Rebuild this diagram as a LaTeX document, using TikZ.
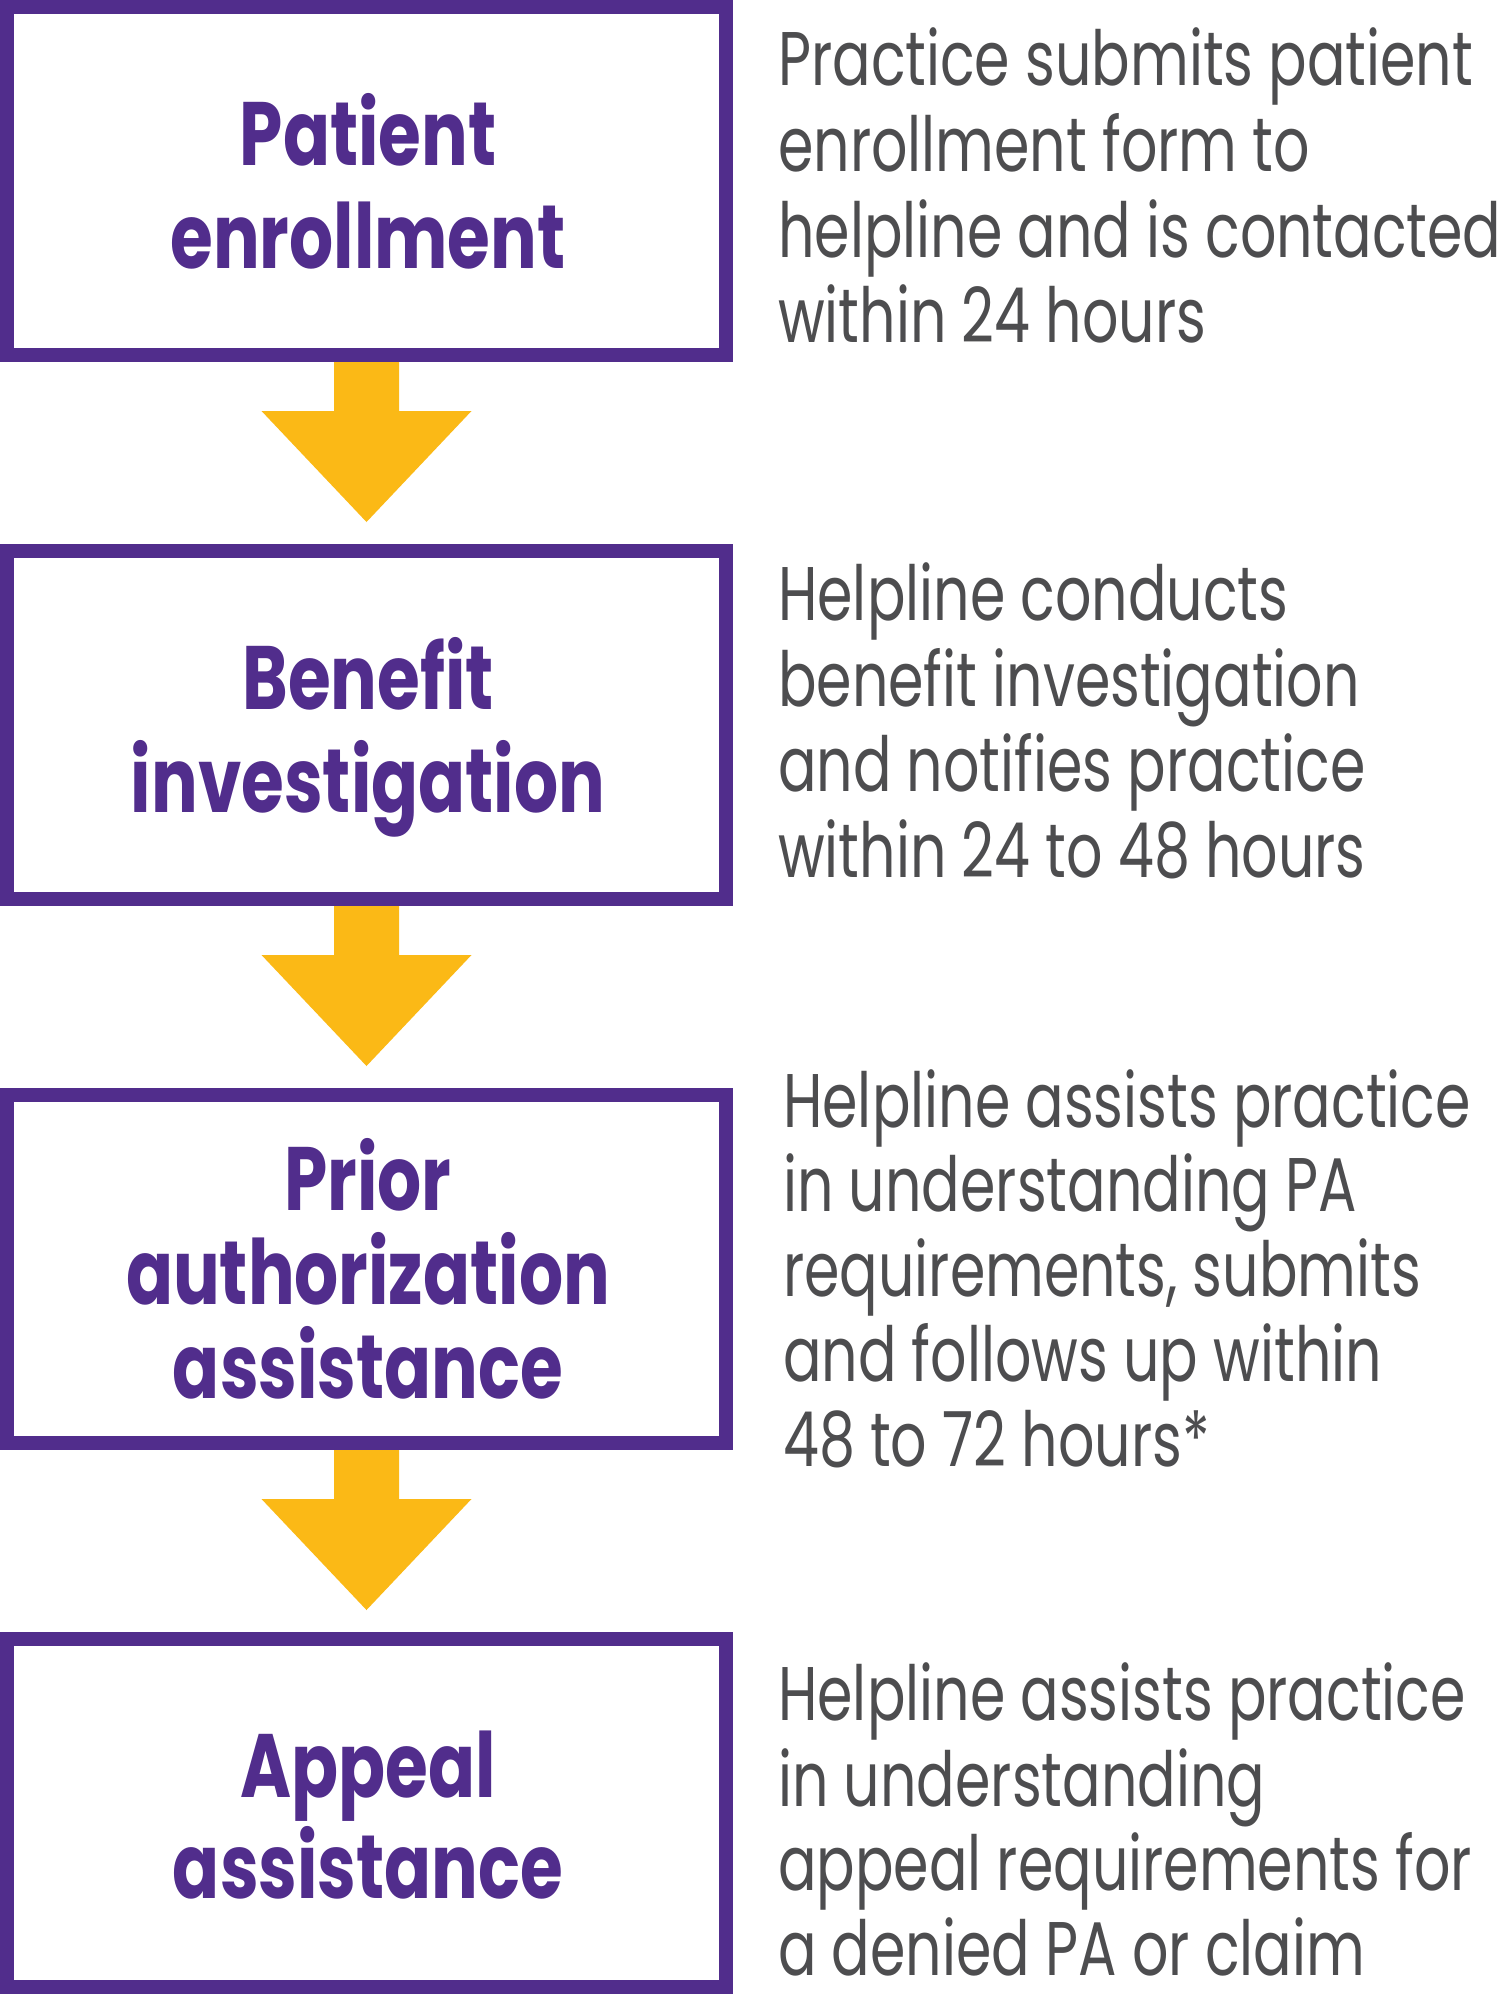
\documentclass[tikz,border=0pt]{standalone}
\usepackage{fontspec}
\usetikzlibrary{calc}
\newfontfamily\descfont{Poppins}[FakeStretch=0.75]
\newfontfamily\boxfont{Poppins}[UprightFont={* Bold}, FakeStretch=0.77]
\definecolor{pplpurple}{HTML}{512D8C}
\definecolor{arrowyellow}{HTML}{FBB916}
\definecolor{descgray}{HTML}{4D4D4F}
\tikzset{
  stepbox/.style={draw=pplpurple, fill=white, line width=14pt, inner sep=0pt, outer sep=0pt,
    minimum width=719pt, minimum height=348pt},
  boxline/.style={anchor=base, inner sep=0pt, text=pplpurple, font=\boxfont\fontsize{90}{100}\selectfont},
  descline/.style={anchor=base west, inner sep=0pt, text depth=0pt, text=descgray, font=\descfont\fontsize{76}{85}\selectfont},
  flowarrow/.style={fill=arrowyellow, draw=none}
}
\begin{document}
\begin{tikzpicture}[x=1pt, y=-1pt]
\useasboundingbox (0,0) rectangle (1500,1994);
\fill[white] (0,0) rectangle (1500,1994);
% boxes
\node[stepbox] (b1) at (366.5,181) {};
\node[stepbox] (b2) at (366.5,725) {};
\node[stepbox] (b3) at (366.5,1269) {};
\node[stepbox] (b4) at (366.5,1813) {};
% arrows
\foreach \a/\b in {b1/b2, b2/b3, b3/b4}{
  \fill[flowarrow] ($(\a.south)+(-32.5,7)$) -- ($(\a.south)+(-32.5,56)$) -- ($(\a.south)+(-105,56)$)
    -- ($(\b.north)+(0,-29)$) -- ($(\a.south)+(105,56)$) -- ($(\a.south)+(32.5,56)$)
    -- ($(\a.south)+(32.5,7)$) -- cycle;
}
% box texts
\node[boxline] (b1l1) at (368,165) {Patient};
\node[boxline] (b1l2) at (368,268) {enrollment};
\node[boxline] (b2l1) at (368,709) {Benefit};
\node[boxline] (b2l2) at (368,812) {investigation};
\node[boxline] (b3l1) at (368,1210) {Prior};
\node[boxline] (b3l2) at (368,1304) {authorization};
\node[boxline] (b3l3) at (368,1398) {assistance};
\node[boxline] (b4l1) at (368,1797) {Appeal};
\node[boxline] (b4l2) at (368,1898) {assistance};
% descriptions
\node[descline] (d1l1) at (778,85) {Practice submits patient};
\node[descline] (d1l2) at (778,171) {enrollment form to};
\node[descline] (d1l3) at (778,257) {helpline and is contacted};
\node[descline] (d1l4) at (778,342) {within 24 hours};
\node[descline] (d2l1) at (778,620) {Helpline conducts};
\node[descline] (d2l2) at (778,706) {benefit investigation};
\node[descline] (d2l3) at (778,791) {and notifies practice};
\node[descline] (d2l4) at (778,877) {within 24 to 48 hours};
\node[descline] (d3l1) at (783,1127) {Helpline assists practice};
\node[descline] (d3l2) at (783,1211) {in understanding PA};
\node[descline] (d3l3) at (783,1296) {requirements, submits};
\node[descline] (d3l4) at (783,1381) {and follows up within};
\node[descline] (d3l5) at (783,1466) {48 to 72 hours*};
\node[descline] (d4l1) at (778,1720) {Helpline assists practice};
\node[descline] (d4l2) at (778,1806) {in understanding};
\node[descline] (d4l3) at (778,1890) {appeal requirements for};
\node[descline] (d4l4) at (778,1975) {a denied PA or claim};
\end{tikzpicture}
\end{document}
